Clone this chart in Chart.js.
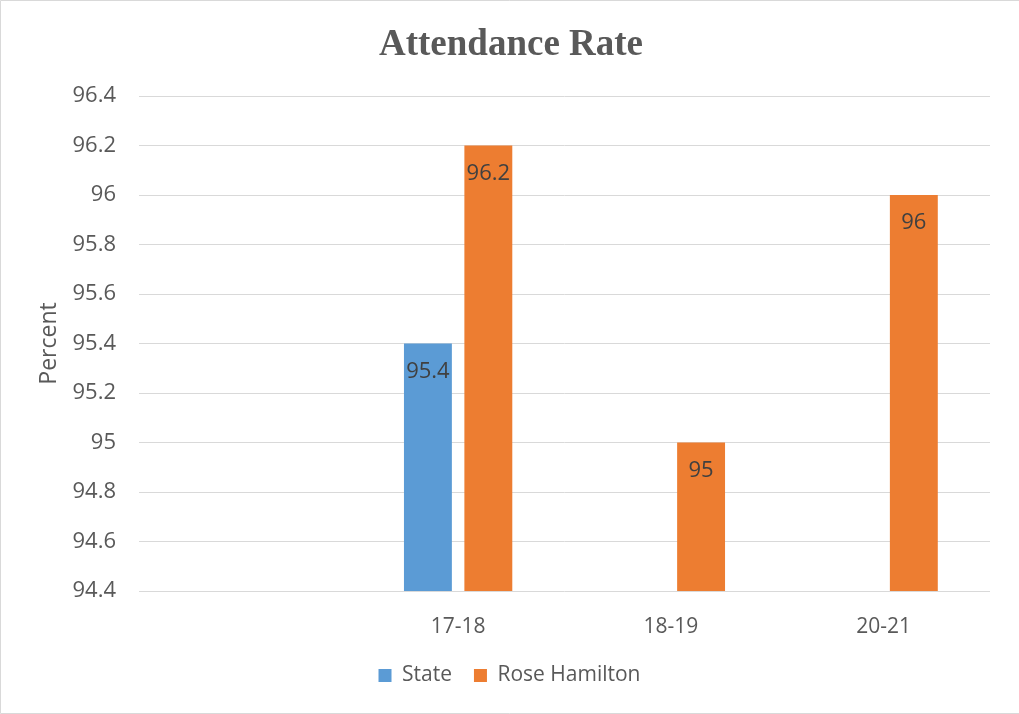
<!DOCTYPE html>
<html>
<head>
<meta charset="utf-8">
<script src="https://cdn.jsdelivr.net/npm/chart.js@4/dist/chart.umd.min.js"></script>
<style>
html,body{margin:0;padding:0;background:#fff;}
#wrap{position:relative;width:1019px;height:714px;}
</style>
</head>
<body>
<div id="wrap"><canvas id="c" width="1019" height="714"></canvas></div>
<script>
const categories = ["", "17-18", "18-19", "20-21"];
const stateValues = [null, 95.4, null, null];
const roseValues = [null, 96.2, 95, 96];
const seriesNames = ["State", "Rose Hamilton"];
const chartTitle = "Attendance Rate";
const yAxisTitle = "Percent";
const yMin = 94.4, yMax = 96.4, yStep = 0.2;

const FONT = "'Open Sans', 'Noto Sans', sans-serif";
const TXT = "#595959";

const framePlugin = {
  id: 'frame',
  beforeDraw(chart) {
    const ctx = chart.ctx;
    ctx.save();
    ctx.fillStyle = '#fff';
    ctx.fillRect(0, 0, chart.width, chart.height);
    ctx.strokeStyle = '#d9d9d9';
    ctx.lineWidth = 1;
    ctx.beginPath();
    ctx.moveTo(chart.width, 0.5); ctx.lineTo(0.5, 0.5); ctx.lineTo(0.5, chart.height - 0.5); ctx.lineTo(chart.width, chart.height - 0.5);
    ctx.stroke();
    ctx.fillStyle = TXT;
    ctx.font = "bold 37px 'Liberation Serif', 'Times New Roman', serif";
    ctx.textAlign = 'center';
    ctx.textBaseline = 'alphabetic';
    ctx.fillText(chartTitle, 511, 55);
    ctx.restore();
  }
};

const labelPlugin = {
  id: 'valueLabels',
  afterDatasetsDraw(chart) {
    const ctx = chart.ctx;
    ctx.save();
    ctx.font = "22px " + FONT;
    ctx.fillStyle = '#404040';
    ctx.textAlign = 'center';
    ctx.textBaseline = 'middle';
    chart.data.datasets.forEach((ds, i) => {
      const meta = chart.getDatasetMeta(i);
      meta.data.forEach((el, j) => {
        const v = ds.data[j];
        if (v === null || v === undefined) return;
        ctx.fillText(String(v), el.x, el.y + 28);
      });
    });
    ctx.restore();
  }
};

new Chart(document.getElementById('c'), {
  type: 'bar',
  data: {
    labels: categories,
    datasets: [
      { label: seriesNames[0], data: stateValues, backgroundColor: '#5B9BD5', categoryPercentage: 0.568, barPercentage: 0.793 },
      { label: seriesNames[1], data: roseValues, backgroundColor: '#ED7D31', categoryPercentage: 0.568, barPercentage: 0.793 }
    ]
  },
  options: {
    responsive: false,
    animation: false,
    layout: { padding: { left: 0, right: 0, top: 96, bottom: 18 } },
    plugins: {
      title: { display: false },
      legend: {
        display: true,
        position: 'bottom',
        labels: {
          boxWidth: 13, boxHeight: 13,
          color: TXT,
          font: { family: FONT, size: 21 },
          padding: 22
        }
      },
      tooltip: { enabled: false }
    },
    scales: {
      x: {
        grid: { display: false },
        border: { display: false },
        ticks: { color: TXT, font: { family: FONT, size: 21 }, padding: 15, maxRotation: 0 },
        afterFit(scale) { scale.height = 52; }
      },
      y: {
        min: yMin, max: yMax,
        grid: { color: '#d9d9d9', lineWidth: 1, drawTicks: false },
        border: { display: false },
        ticks: {
          stepSize: yStep,
          color: TXT,
          font: { family: FONT, size: 22 },
          padding: 23,
          callback: v => String(+(+v).toFixed(1))
        },
        title: {
          display: true,
          text: yAxisTitle,
          color: TXT,
          font: { family: FONT, size: 23 },
          padding: { top: 36, bottom: 0 }
        },
        afterFit(scale) { scale.width = 139; }
      },
      yRight: {
        position: 'right',
        display: true,
        grid: { display: false, drawTicks: false },
        border: { display: false },
        ticks: { display: false },
        afterFit(scale) { scale.width = 29; }
      }
    }
  },
  plugins: [framePlugin, labelPlugin]
});
</script>
</body>
</html>
